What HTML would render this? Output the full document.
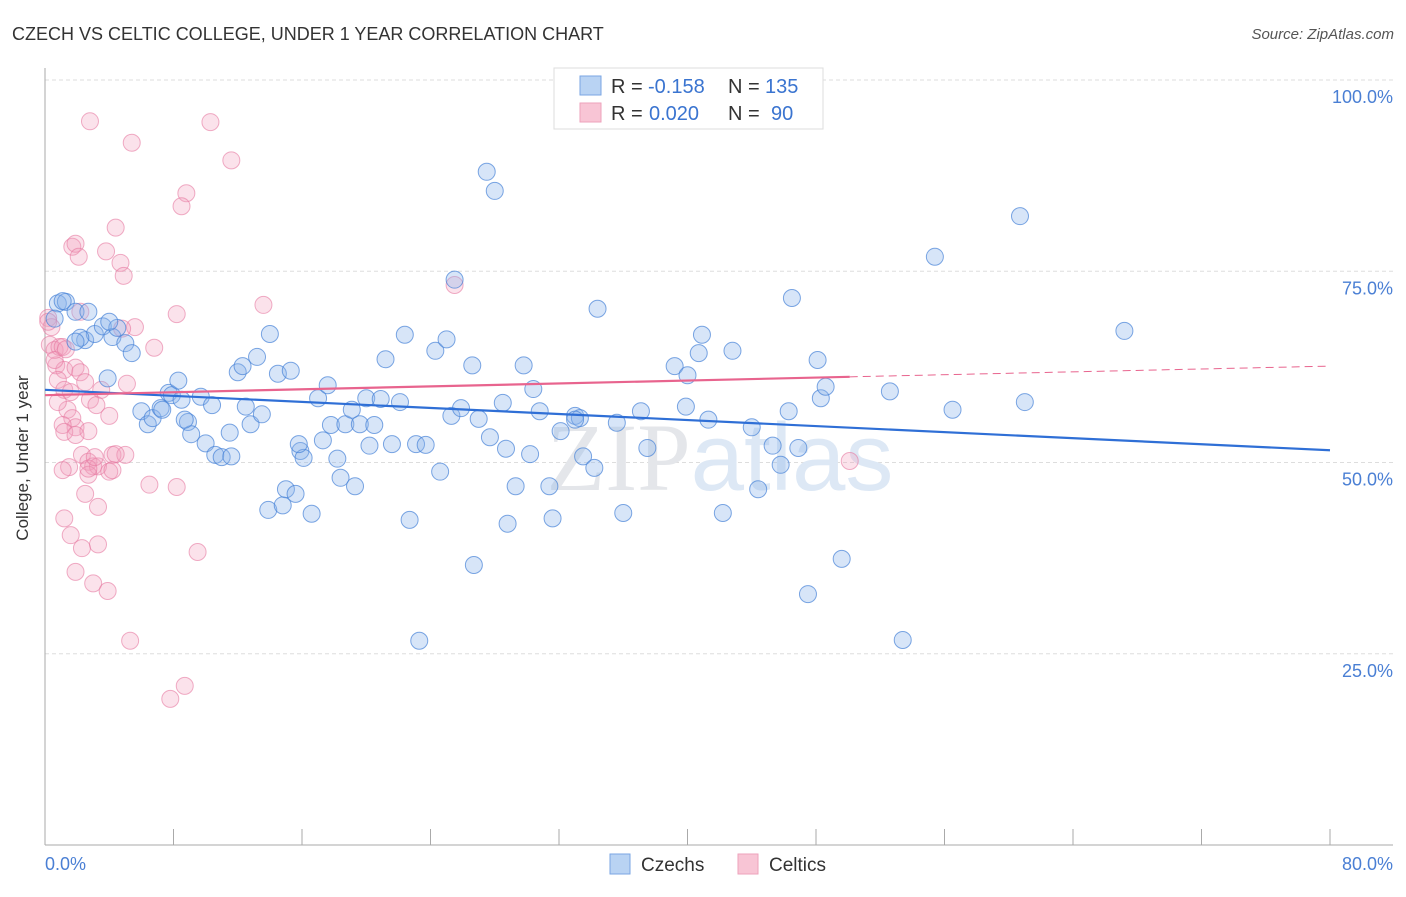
<!DOCTYPE html>
<html><head><meta charset="utf-8"><style>
body{margin:0;background:#fff;font-family:"Liberation Sans",sans-serif;}
svg text{font-family:"Liberation Sans",sans-serif;}
</style></head><body>
<svg id="chart" width="1406" height="892">
<text x="12" y="40" font-size="18" fill="#333">CZECH VS CELTIC COLLEGE, UNDER 1 YEAR CORRELATION CHART</text>
<text x="1394" y="39" font-size="15" fill="#555" font-style="italic" text-anchor="end">Source: ZipAtlas.com</text>
<g id="grid"></g>
<text x="720" y="490" font-size="96" fill="#eceef1" text-anchor="middle"><tspan font-family="Liberation Serif" fill="#e4e6ea">ZIP</tspan><tspan fill="#dde8f5">atlas</tspan></text>
<g id="pts"></g>
<g id="trend"></g>
<text x="28" y="458" font-size="17" fill="#333" text-anchor="middle" transform="rotate(-90 28 458)">College, Under 1 year</text>
<text x="45" y="870" font-size="18" fill="#4a7fd4">0.0%</text>
<text x="1393" y="870" font-size="18" fill="#4a7fd4" text-anchor="end">80.0%</text>
<g>
<rect x="554" y="68" width="269" height="61" fill="#fff" stroke="#ddd"/>
<rect x="580" y="76" width="21" height="19" fill="#b9d3f3" stroke="#7aa6e3"/>
<rect x="580" y="103" width="21" height="19" fill="#f8c5d5" stroke="#eea2bb"/>
<text x="611" y="93" font-size="20" fill="#333">R =</text>
<text x="648" y="93" font-size="20" fill="#3a74d0">-0.158</text>
<text x="728" y="93" font-size="20" fill="#333">N =</text>
<text x="765" y="93" font-size="20" fill="#3a74d0">135</text>
<text x="611" y="120" font-size="20" fill="#333">R =</text>
<text x="649" y="120" font-size="20" fill="#3a74d0">0.020</text>
<text x="728" y="120" font-size="20" fill="#333">N =</text>
<text x="771" y="120" font-size="20" fill="#3a74d0">90</text>
</g>
<g>
<rect x="610" y="854" width="20" height="20" fill="#b9d3f3" stroke="#7aa6e3"/>
<text x="641" y="871" font-size="19" fill="#333">Czechs</text>
<rect x="738" y="854" width="20" height="20" fill="#f8c5d5" stroke="#eea2bb"/>
<text x="769" y="871" font-size="19" fill="#333">Celtics</text>
</g>
</svg>
<script>
const czX=[0.8,1.3,0.6,1.9,2.7,2.5,3.1,3.6,4.2,4.5,5.0,5.4,3.9,6.0,6.4,6.7,7.2,7.3,7.7,7.9,8.3,8.5,8.9,9.1,9.7,10.0,10.4,10.6,11.0,11.5,11.6,12.0,12.3,12.5,12.8,13.2,13.5,14.0,13.9,14.5,14.8,15.0,15.3,15.6,15.9,16.1,16.6,17.0,17.3,17.6,17.8,18.2,18.4,18.7,19.1,19.3,19.6,20.0,20.2,20.5,20.9,21.2,21.6,22.1,22.4,22.7,23.1,23.3,23.7,24.3,24.6,25.0,25.3,25.5,25.9,26.6,27.0,27.5,27.7,28.0,28.5,28.7,28.8,29.3,29.8,30.2,30.4,30.8,31.4,31.6,32.1,33.0,33.3,33.5,34.2,34.4,35.6,36.0,37.1,37.5,39.2,39.9,40.0,40.7,40.9,41.3,42.2,42.8,44.0,44.4,45.3,45.8,46.3,46.5,46.9,47.5,48.1,48.3,48.6,49.6,52.6,53.4,55.4,56.5,60.7,61.0,67.2,26.7,15.8,8.7,4.0,2.2,1.1,1.9,33.0];
const czY=[70.8,71.0,68.8,69.7,69.7,66.0,66.8,67.8,66.4,67.6,65.6,64.3,61.0,56.7,55.0,55.8,57.1,56.9,59.1,58.8,60.7,58.2,55.3,53.7,58.6,52.5,57.5,51.0,50.7,53.9,50.8,61.8,62.6,57.3,55.0,63.8,56.3,66.8,43.8,61.6,44.4,46.5,62.0,45.9,51.5,50.6,43.3,58.4,52.9,60.1,54.9,50.5,48.0,55.0,56.9,46.9,55.0,58.4,52.2,54.9,58.3,63.5,52.4,57.9,66.7,42.5,52.4,26.7,52.3,64.6,48.8,66.1,56.1,73.9,57.1,62.7,55.7,88.0,53.3,85.5,57.8,51.8,42.0,46.9,62.7,51.1,59.6,56.7,46.9,42.7,54.1,56.1,55.8,50.8,49.3,70.1,55.2,43.4,56.7,51.9,62.6,57.3,61.4,64.3,66.7,55.6,43.4,64.6,54.6,46.5,52.2,49.7,56.7,71.5,51.9,32.8,63.4,58.4,59.9,37.4,59.3,26.8,76.9,56.9,82.2,57.9,67.2,36.6,52.4,55.6,68.4,66.3,71.1,65.8,55.6];
const ceX=[2.8,5.4,10.3,11.6,8.8,8.5,4.4,1.7,1.9,2.1,3.8,4.7,4.9,13.6,8.2,25.5,0.2,0.4,2.2,5.6,4.8,6.8,0.3,0.6,0.9,1.1,0.7,1.2,0.8,1.9,2.2,2.5,1.2,1.6,3.5,5.1,2.8,3.2,4.0,1.4,1.7,1.9,1.1,1.2,2.7,2.3,2.7,3.0,3.3,4.2,5.0,2.7,4.0,6.5,8.2,2.5,3.3,1.2,1.6,2.3,3.3,9.5,1.9,3.0,3.9,5.3,8.7,7.8,50.1,1.5,1.1,2.7,3.1,4.4,0.2,0.6,1.3,0.8,1.9,4.2];
const ceY=[94.6,91.8,94.5,89.5,85.2,83.5,80.7,78.2,78.6,76.9,77.6,76.1,74.4,70.6,69.4,73.2,68.9,67.7,69.7,67.7,67.5,65.0,65.4,64.7,65.1,65.1,62.7,62.1,60.8,62.4,61.8,60.5,59.5,59.2,59.5,60.3,58.2,57.5,56.1,56.9,55.8,54.6,54.9,54.0,54.1,51.0,50.1,49.5,49.5,51.0,51.0,48.4,48.8,47.1,46.8,45.9,44.2,42.7,40.5,38.8,39.3,38.3,35.7,34.2,33.2,26.7,20.8,19.1,50.2,49.4,49.0,49.2,50.7,51.1,68.4,63.4,64.8,57.9,53.6,49.0];
const yTicks=[25,50,75,100];
const yTickLabels=["25.0%","50.0%","75.0%","100.0%"];
const xTicks=[0,8,16,24,32,40,48,56,64,72,80];
const czTrend=[[0,59.5],[80,51.6]];
const ceTrend=[[0,58.8],[50.1,61.2],[80,62.6]];
const X=v=>45+v/80*1285, Y=v=>845-v/100*765;
const NS="http://www.w3.org/2000/svg";
function mk(t,a,p){const e=document.createElementNS(NS,t);for(const k in a)e.setAttribute(k,a[k]);p.appendChild(e);return e;}
const g=document.getElementById('grid');
yTicks.forEach((t,i)=>{
 const l=mk('line',{x1:45,x2:1393,y1:Y(t),y2:Y(t),stroke:'#ddd','stroke-dasharray':'4,3'},g);
 
 
 const tx=mk('text',{x:1393,y:Y(t)+23,'font-size':18,fill:'#4a7fd4','text-anchor':'end'},g);
 tx.textContent=yTickLabels[i];
 
 
});
const ax=mk('line',{x1:45,x2:45,y1:68,y2:845,stroke:'#aaa'},g);


const bx=mk('line',{x1:45,x2:1393,y1:845,y2:845,stroke:'#aaa'},g);


xTicks.forEach(t=>{
 const l=mk('line',{x1:X(t),x2:X(t),y1:829,y2:845,stroke:'#aaa'},g);
 
 
});
const p=document.getElementById('pts');
ceX.forEach((v,i)=>{
 const c=mk('circle',{cx:X(v),cy:Y(ceY[i]),r:8.5,fill:'rgba(243,160,188,0.3)',stroke:'rgba(230,120,160,0.6)','stroke-width':1},p);
 
 
});
czX.forEach((v,i)=>{
 const c=mk('circle',{cx:X(v),cy:Y(czY[i]),r:8.5,fill:'rgba(140,180,235,0.35)',stroke:'rgba(70,130,215,0.7)','stroke-width':1},p);
 
 
});
const tr=document.getElementById('trend');
const bl=mk('line',{x1:X(czTrend[0][0]),y1:Y(czTrend[0][1]),x2:X(czTrend[1][0]),y2:Y(czTrend[1][1]),stroke:'#2f6fd6','stroke-width':2.2},tr);


const pl=mk('line',{x1:X(ceTrend[0][0]),y1:Y(ceTrend[0][1]),x2:X(ceTrend[1][0]),y2:Y(ceTrend[1][1]),stroke:'#e8648e','stroke-width':2.2},tr);


const pd=mk('line',{x1:X(ceTrend[1][0]),y1:Y(ceTrend[1][1]),x2:X(ceTrend[2][0]),y2:Y(ceTrend[2][1]),stroke:'#e8648e','stroke-width':1,'stroke-dasharray':'8,5'},tr);


</script>
</body></html>
